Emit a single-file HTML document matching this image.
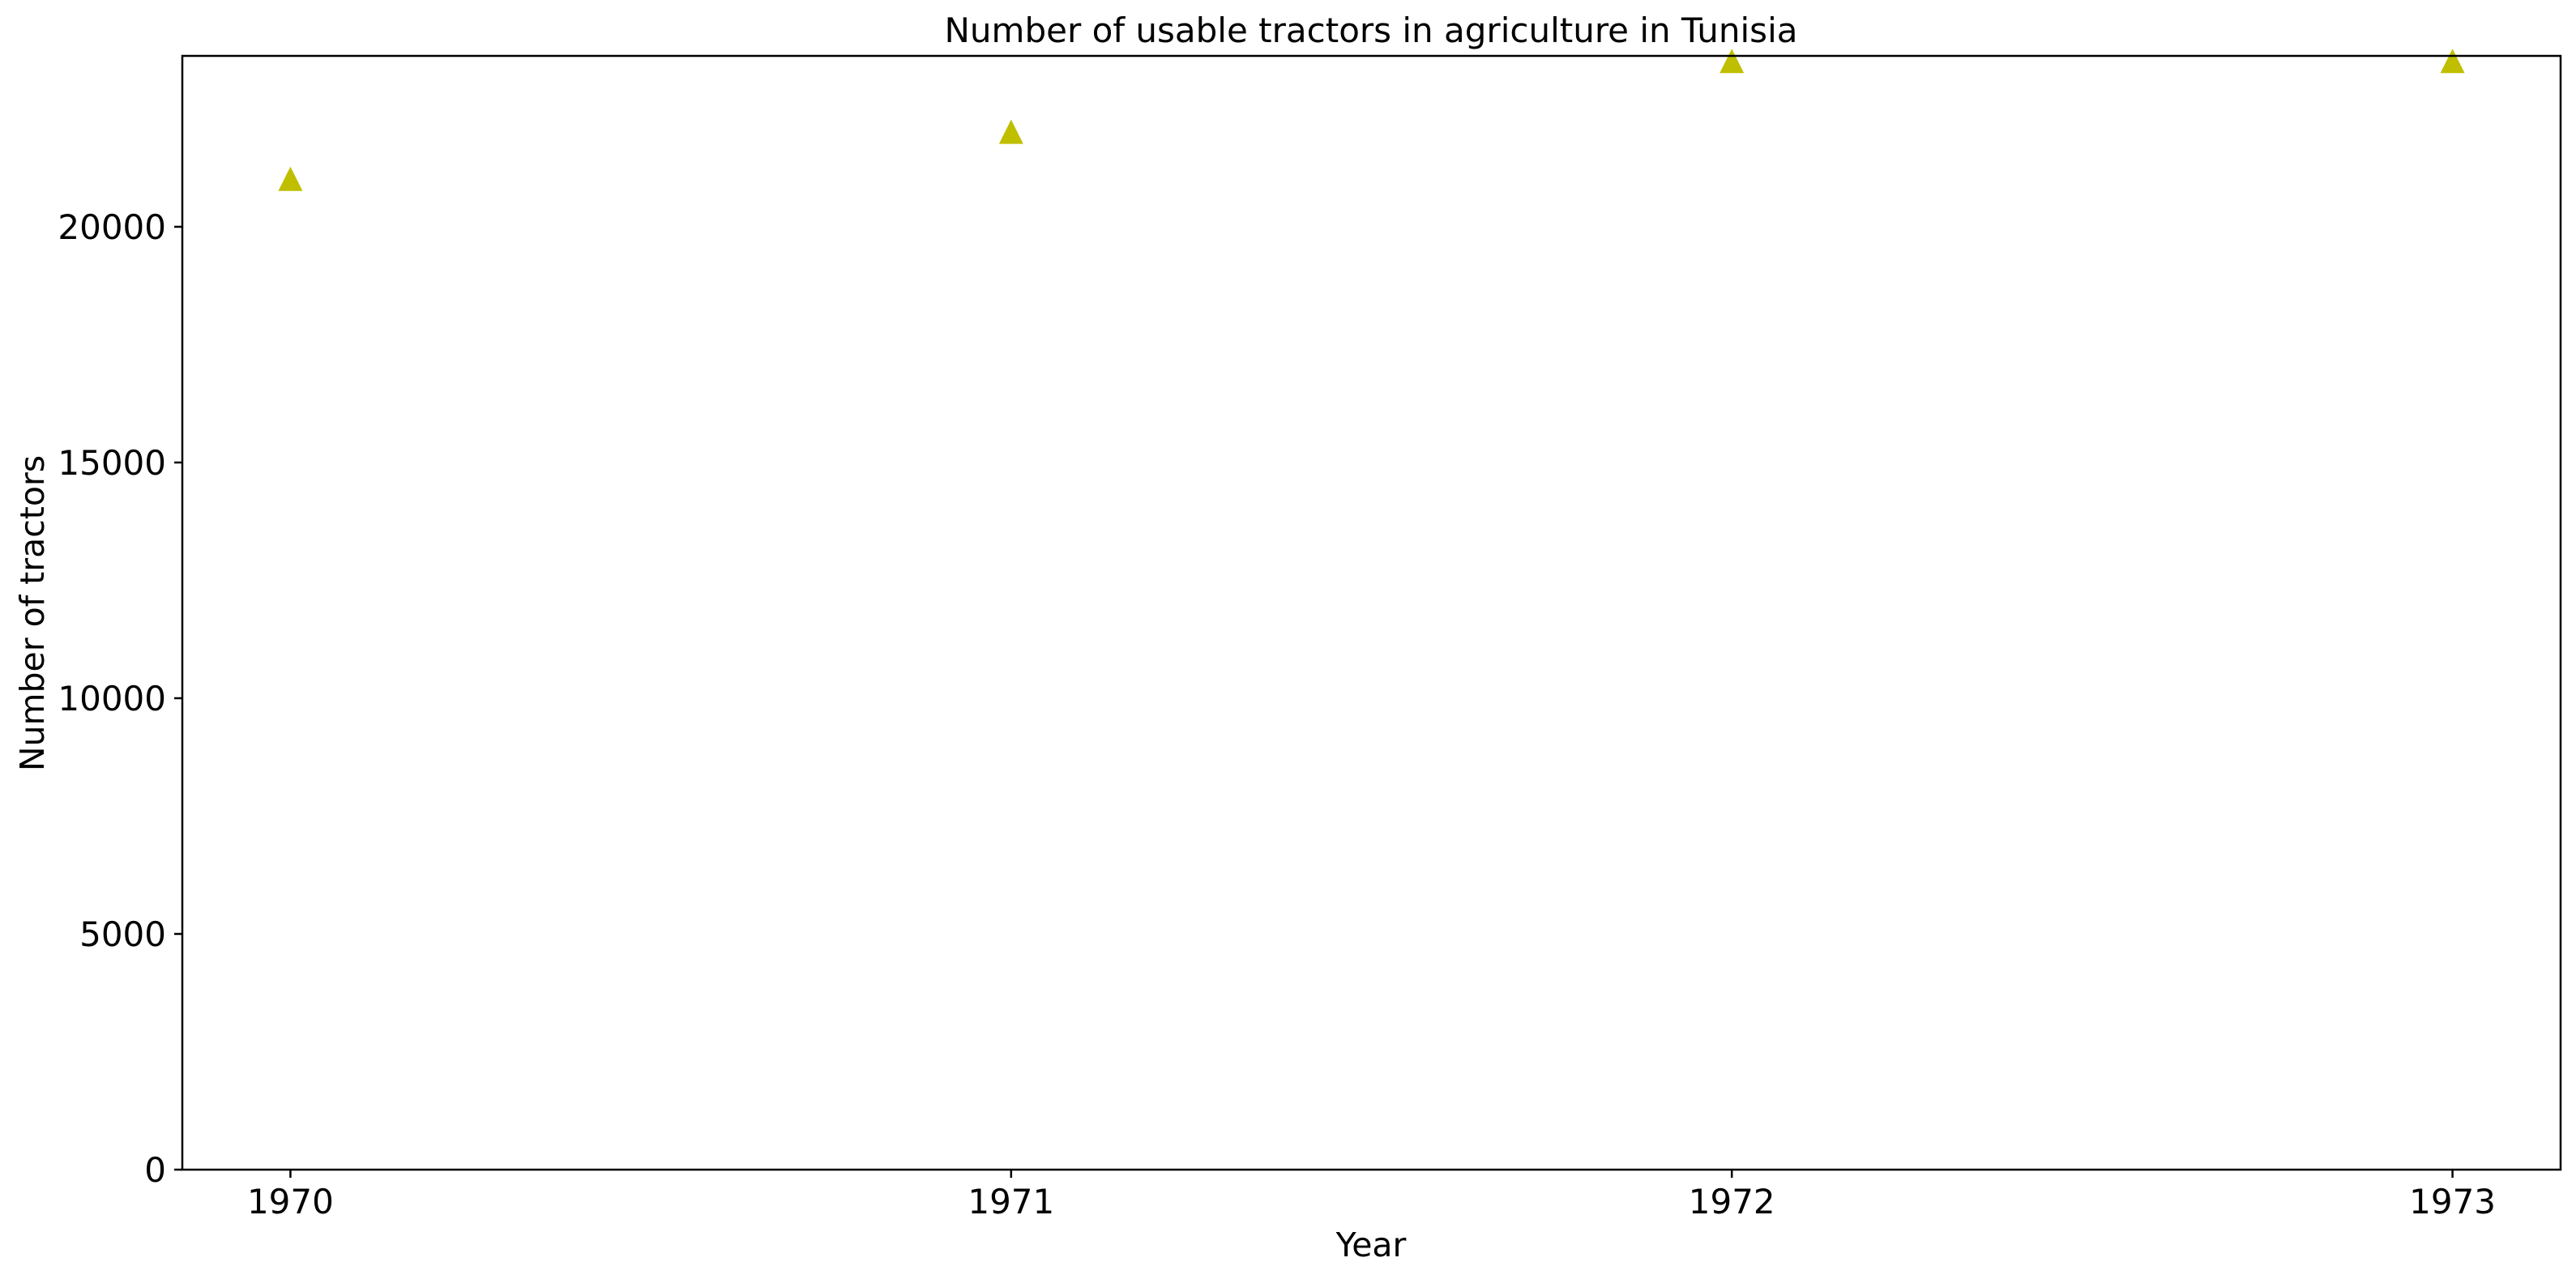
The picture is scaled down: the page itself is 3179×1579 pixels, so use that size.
<!DOCTYPE html>
<html><head><meta charset="utf-8"><style>
body{margin:0;background:#fff;}
svg{display:block;font-family:"DejaVu Sans","Liberation Sans",sans-serif;}
</style></head><body>
<svg id="chart" width="3179" height="1579">
<rect width="3179" height="1579" fill="#fff"/>
<text x="1692" y="52" font-size="42" text-anchor="middle">Number of usable tractors in agriculture in Tunisia</text>
<text x="1692" y="1551" font-size="41" text-anchor="middle">Year</text>
<text transform="translate(54,757) rotate(-90)" font-size="41" text-anchor="middle">Number of tractors</text>
<g id="ticks"></g>
<g id="marks"></g>
<rect x="225" y="69" width="2935" height="1375" fill="none" stroke="#000" stroke-width="2.5"/>
</svg>
<script>
const years = [1970, 1971, 1972, 1973];
const tractors = [21000, 22000, 23500, 23500];
const yTicks = [0, 5000, 10000, 15000, 20000];
const L=225,R=3160,T=69,B=1444;
const xMin=1969.85,xMax=1973.15,yMin=0,yMax=23625;
const xs=v=>L+(v-xMin)/(xMax-xMin)*(R-L);
const ys=v=>B-(v-yMin)/(yMax-yMin)*(B-T);
const NS='http://www.w3.org/2000/svg';
const tg=document.getElementById('ticks'),mg=document.getElementById('marks');
function mk(tag,attrs,parent){const e=document.createElementNS(NS,tag);for(const k in attrs)e.setAttribute(k,attrs[k]);parent.appendChild(e);return e;}
yTicks.forEach(v=>{
  const y=ys(v);
  const l=mk('line',{x1:L-10,x2:L,y1:y,y2:y,stroke:'#000','stroke-width':2.5},tg);
  
  
  const t=mk('text',{x:L-20,y:y+15,'font-size':42,'text-anchor':'end'},tg);
  t.textContent=v;
  
  
});
years.forEach(v=>{
  const x=xs(v);
  const l=mk('line',{x1:x,x2:x,y1:B,y2:B+10,stroke:'#000','stroke-width':2.5},tg);
  
  
  const t=mk('text',{x:x,y:B+54,'font-size':42,'text-anchor':'middle'},tg);
  t.textContent=v;
  
  
});
years.forEach((v,i)=>{
  const x=xs(v),y=ys(tractors[i]);
  const p=mk('polygon',{points:`${x},${y-16} ${x-15},${y+14} ${x+15},${y+14}`,fill:'#bfbf00'},mg);
  
  
});
</script>
</body></html>
